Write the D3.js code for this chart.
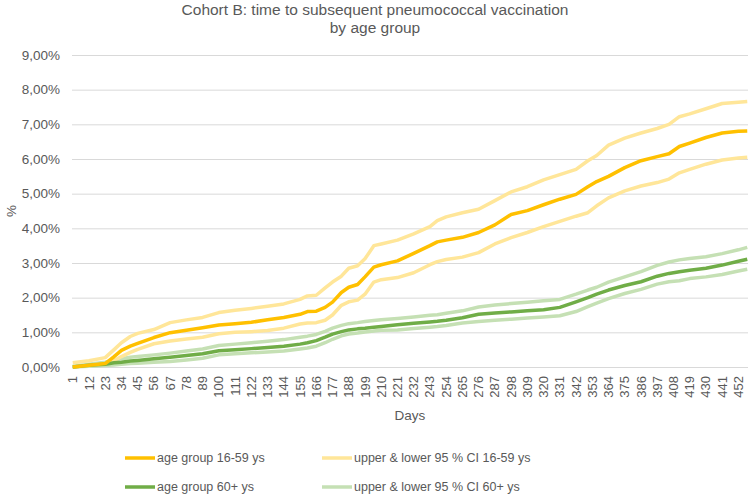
<!DOCTYPE html>
<html>
<head>
<meta charset="utf-8">
<script src="https://cdn.jsdelivr.net/npm/d3@7"></script>
<style>
  html, body { margin: 0; padding: 0; background: #ffffff; }
  svg { display: block; font-family: "Liberation Sans", Arial, sans-serif; }
</style>
</head>
<body>
<svg id="chart" width="750" height="495"></svg>
<script>
// ---- Data (values in %) ----
const titleLines = ["Cohort B: time to subsequent pneumococcal vaccination", "by age group"];
const nDays = 458;
const tickDays = [1,12,23,34,45,56,67,78,89,100,111,122,133,144,155,166,177,188,199,210,221,232,243,254,265,276,287,298,309,320,331,342,353,364,375,386,397,408,419,430,441,452];
const yTicks = [0,1,2,3,4,5,6,7,8,9];

const days = [1,12,23,29,34,40,45,56,67,78,89,100,111,122,133,144,155,160,166,172,177,183,188,194,199,205,210,221,232,243,248,254,265,276,287,298,309,320,331,342,350,356,364,375,386,397,405,412,419,430,441,452,458];

const age1659 = [0.00,0.05,0.10,0.30,0.48,0.60,0.68,0.85,0.99,1.06,1.13,1.21,1.25,1.29,1.36,1.43,1.52,1.60,1.61,1.72,1.87,2.15,2.30,2.38,2.60,2.88,2.95,3.06,3.28,3.50,3.61,3.66,3.74,3.88,4.10,4.40,4.51,4.68,4.84,4.98,5.20,5.35,5.50,5.75,5.95,6.07,6.15,6.36,6.46,6.62,6.75,6.80,6.81];
const upper1659 = [0.12,0.18,0.27,0.50,0.70,0.88,0.97,1.08,1.28,1.36,1.43,1.57,1.64,1.69,1.75,1.82,1.95,2.05,2.07,2.28,2.45,2.62,2.85,2.92,3.12,3.50,3.55,3.66,3.84,4.05,4.22,4.33,4.45,4.55,4.80,5.05,5.20,5.40,5.55,5.70,5.95,6.10,6.40,6.60,6.75,6.88,7.00,7.22,7.30,7.45,7.60,7.64,7.66];
const lower1659 = [0.00,0.04,0.08,0.18,0.30,0.42,0.51,0.67,0.75,0.81,0.86,0.96,1.00,1.02,1.05,1.12,1.24,1.27,1.28,1.35,1.50,1.78,1.88,1.93,2.10,2.45,2.52,2.58,2.72,2.95,3.04,3.10,3.17,3.30,3.55,3.73,3.88,4.05,4.20,4.35,4.45,4.65,4.88,5.08,5.22,5.32,5.42,5.60,5.70,5.85,5.97,6.03,6.05];
const age60 = [0.00,0.05,0.08,0.12,0.14,0.17,0.19,0.24,0.28,0.33,0.38,0.47,0.50,0.53,0.56,0.60,0.66,0.70,0.76,0.86,0.95,1.02,1.07,1.10,1.12,1.15,1.17,1.22,1.26,1.30,1.32,1.35,1.42,1.52,1.56,1.59,1.62,1.65,1.72,1.88,2.00,2.10,2.22,2.35,2.46,2.62,2.70,2.75,2.79,2.85,2.94,3.05,3.11];
const upper60 = [0.02,0.08,0.14,0.20,0.24,0.28,0.30,0.35,0.40,0.46,0.52,0.62,0.66,0.70,0.74,0.79,0.86,0.89,0.94,1.03,1.12,1.20,1.25,1.28,1.31,1.34,1.36,1.40,1.44,1.49,1.51,1.55,1.62,1.73,1.79,1.83,1.87,1.91,1.95,2.10,2.22,2.30,2.45,2.60,2.75,2.93,3.03,3.09,3.13,3.18,3.27,3.38,3.45];
const lower60 = [0.00,0.02,0.04,0.06,0.08,0.10,0.11,0.14,0.16,0.20,0.25,0.35,0.38,0.41,0.43,0.46,0.52,0.55,0.60,0.70,0.80,0.90,0.95,0.98,1.01,1.04,1.06,1.07,1.11,1.15,1.17,1.20,1.27,1.31,1.35,1.38,1.41,1.44,1.48,1.60,1.74,1.84,1.97,2.12,2.24,2.39,2.46,2.49,2.55,2.60,2.67,2.77,2.82];

const legendLabels = ["age group 16-59 ys", "upper & lower 95 % CI 16-59 ys", "age group 60+ ys", "upper & lower 95 % CI 60+ ys"];
const colors = { main1659: "#FFC000", ci1659: "#FFE699", main60: "#70AD47", ci60: "#C5E0B4" };

// ---- Layout ----
const svg = d3.select("#chart");
const plotL = 72, plotR = 748, plotT = 55, plotB = 367;
const textColor = "#595959";

const x = d3.scaleBand().domain(d3.range(1, nDays + 1)).range([plotL, plotR]).padding(0);
const xc = d => x(d) + x.bandwidth() / 2;
const y = d3.scaleLinear().domain([0, 9]).range([plotB, plotT]);

// Title
svg.append("text")
  .attr("x", 375).attr("y", 15)
  .attr("text-anchor", "middle")
  .attr("fill", textColor).attr("font-size", "15.5px")
  .text(titleLines[0]);
svg.append("text")
  .attr("x", 375).attr("y", 33)
  .attr("text-anchor", "middle")
  .attr("fill", textColor).attr("font-size", "15.5px")
  .text(titleLines[1]);

// Y axis + gridlines
const yAxis = d3.axisLeft(y)
  .tickValues(yTicks)
  .tickSize(-(plotR - plotL))
  .tickPadding(12)
  .tickFormat(d => d.toFixed(2).replace(".", ",") + "%");
const gy = svg.append("g").attr("transform", `translate(${plotL},0)`).call(yAxis);
gy.select(".domain").remove();
gy.selectAll(".tick line").attr("stroke", "#D9D9D9").attr("stroke-width", 1);
gy.selectAll(".tick text").attr("fill", textColor).attr("font-size", "13.5px")
  .attr("font-family", "'Liberation Sans', Arial, sans-serif");

// X axis
const xAxis = d3.axisBottom(x).tickValues(tickDays).tickSize(0).tickPadding(0);
const gx = svg.append("g").attr("transform", `translate(0,${plotB})`).call(xAxis);
gx.select(".domain").remove();
gx.selectAll(".tick text")
  .attr("transform", "rotate(-90)")
  .attr("text-anchor", "end")
  .attr("x", -9).attr("y", 0).attr("dy", "0.35em")
  .attr("fill", textColor).attr("font-size", "13px")
  .attr("font-family", "'Liberation Sans', Arial, sans-serif");

// Axis titles
svg.append("text")
  .attr("x", (plotL + plotR) / 2).attr("y", 420)
  .attr("text-anchor", "middle").attr("fill", textColor).attr("font-size", "13.5px")
  .text("Days");
svg.append("text")
  .attr("transform", `translate(16,${(plotT + plotB) / 2}) rotate(-90)`)
  .attr("text-anchor", "middle").attr("fill", textColor).attr("font-size", "13.5px")
  .text("%");

// Lines
const line = d3.line().x((d, i) => xc(days[i])).y(d => y(d));
const series = [
  { v: upper60, c: colors.ci60 },
  { v: lower60, c: colors.ci60 },
  { v: upper1659, c: colors.ci1659 },
  { v: lower1659, c: colors.ci1659 },
  { v: age60, c: colors.main60 },
  { v: age1659, c: colors.main1659 }
];
svg.append("g").selectAll("path").data(series).join("path")
  .attr("d", d => line(d.v))
  .attr("fill", "none")
  .attr("stroke", d => d.c)
  .attr("stroke-width", 3.5)
  .attr("stroke-linejoin", "round");

// Legend
const legendItems = [
  { label: legendLabels[0], c: colors.main1659, x: 125, y: 458 },
  { label: legendLabels[1], c: colors.ci1659, x: 322, y: 458 },
  { label: legendLabels[2], c: colors.main60, x: 125, y: 487 },
  { label: legendLabels[3], c: colors.ci60, x: 322, y: 487 }
];
const lg = svg.append("g").selectAll("g").data(legendItems).join("g")
  .attr("transform", d => `translate(${d.x},${d.y})`);
lg.append("line").attr("x1", 0).attr("x2", 30).attr("y1", 0).attr("y2", 0)
  .attr("stroke", d => d.c).attr("stroke-width", 3.5);
lg.append("text").attr("x", 32).attr("y", 0).attr("dy", "0.35em")
  .attr("fill", textColor).attr("font-size", "12.5px")
  .text(d => d.label);
</script>
</body>
</html>
